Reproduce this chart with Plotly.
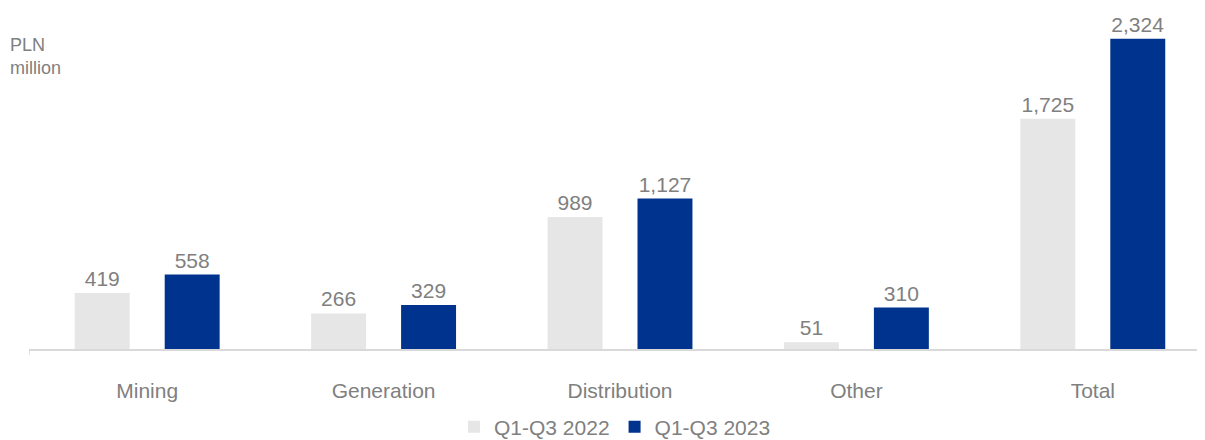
import plotly.graph_objects as go

categories = ["Mining", "Generation", "Distribution", "Other", "Total"]
q2022 = [419, 266, 989, 51, 1725]
q2023 = [558, 329, 1127, 310, 2324]
series_names = ["Q1-Q3 2022", "Q1-Q3 2023"]
unit_label = "PLN<br>million"

GREY_TXT = "#808080"
FONT = "Liberation Sans, Arial, sans-serif"
LABEL_TMPL = "%{y:,}"

fig = go.Figure()
fig.add_trace(go.Bar(
    x=categories, y=q2022, name=series_names[0],
    marker=dict(color="#E6E6E6", line=dict(width=0)),
    texttemplate=LABEL_TMPL, textposition="outside", constraintext="none",
    textfont=dict(color=GREY_TXT, size=21, family=FONT),
    cliponaxis=False,
))
fig.add_trace(go.Bar(
    x=categories, y=q2023, name=series_names[1],
    marker=dict(color="#00338D", line=dict(width=0)),
    texttemplate=LABEL_TMPL, textposition="outside", constraintext="none",
    textfont=dict(color=GREY_TXT, size=21, family=FONT),
    cliponaxis=False,
))

fig.update_layout(
    width=1205, height=432,
    margin=dict(l=21, r=2, t=2, b=91, autoexpand=False),
    paper_bgcolor="white", plot_bgcolor="white",
    barmode="group", bargap=0.239, bargroupgap=0.389,
    font=dict(family=FONT, color=GREY_TXT, size=21),
    showlegend=True,
    legend=dict(orientation="h", x=0.5 - 5/1182, xanchor="center", y=-0.17, yanchor="top",
                font=dict(size=21, color=GREY_TXT), itemwidth=30,
                traceorder="normal", itemclick=False),
)
fig.update_xaxes(
    type="category", range=[-0.5, 4.5], automargin=False,
    showline=True, linecolor="#D9D9D9", linewidth=1.5,
    ticks="", ticklabelstandoff=22,
    tickfont=dict(size=21, color=GREY_TXT), showgrid=False,
)
fig.update_yaxes(range=[0, 2539], visible=False, showgrid=False, zeroline=False,
                 automargin=False)

fig.add_shape(type="line", xref="x", yref="paper", x0=-0.5, x1=-0.5, y0=0, y1=-0.018,
              line=dict(color="#D9D9D9", width=1.5))
fig.add_annotation(text=unit_label, xref="paper", yref="paper", x=-21/1182, y=(341-25)/339,
                   xanchor="left", yanchor="top", showarrow=False, align="left",
                   font=dict(size=18, color=GREY_TXT, family=FONT))

fig.write_html("out.html")
